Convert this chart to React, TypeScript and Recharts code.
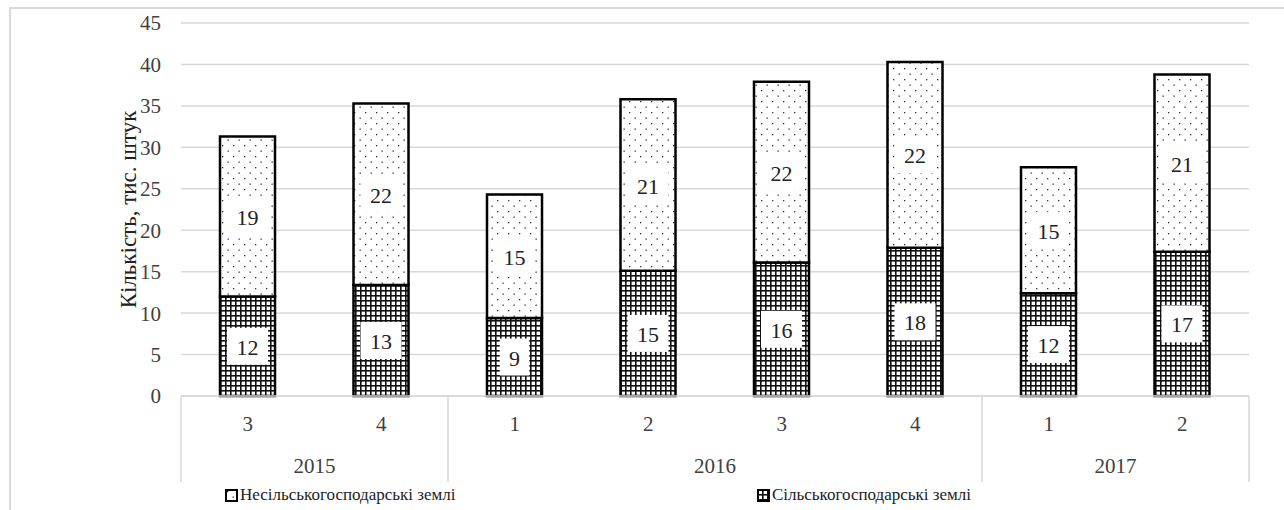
import React from "react";
import {
  BarChart,
  Bar,
  XAxis,
  YAxis,
  CartesianGrid,
  LabelList,
  Legend,
} from "recharts";

// quarter / year categories
const quarters = ["3", "4", "1", "2", "3", "4", "1", "2"];
const years = ["2015", "2015", "2016", "2016", "2016", "2016", "2017", "2017"];

// thousand units
const agricultural = [12.0, 13.4, 9.4, 15.1, 16.1, 17.9, 12.4, 17.4];
const nonAgricultural = [19.3, 21.9, 14.9, 20.7, 21.8, 22.4, 15.2, 21.4];

const yTicks = [0, 5, 10, 15, 20, 25, 30, 35, 40, 45];

const AGRI_NAME = "Сільськогосподарські землі";
const NON_AGRI_NAME = "Несільськогосподарські землі";

const data = quarters.map((q, i) => ({
  q,
  year: years[i],
  agri: agricultural[i],
  nonAgri: nonAgricultural[i],
}));

const W = 1284;
const H = 510;
const MARGIN = { top: 23, right: 35, bottom: 0, left: 111 };
const Y_AXIS_W = 70;
const X_AXIS_H = 114;
const FONT = "'Liberation Serif', 'Times New Roman', serif";
const GRID = "#d9d9d9";
const TEXT = "#404040";

const STEP = (W - MARGIN.left - Y_AXIS_W - MARGIN.right) / data.length;

function CategoryTick(props: any) {
  const { x, y, payload, index } = props;
  const yr = years[index];
  const isStart = index === 0 || years[index - 1] !== yr;
  const isLast = index === years.length - 1;
  let groupLen = 0;
  if (isStart) {
    let j = index;
    while (j < years.length && years[j] === yr) {
      groupLen++;
      j++;
    }
  }
  return (
    <g>
      <text
        x={x}
        y={y + 28}
        textAnchor="middle"
        dominantBaseline="central"
        fontFamily={FONT}
        fontSize={21}
        fill={TEXT}
      >
        {payload.value}
      </text>
      {isStart && (
        <>
          <line
            x1={x - STEP / 2}
            x2={x - STEP / 2}
            y1={y}
            y2={y + 86}
            stroke={GRID}
            strokeWidth={1.5}
          />
          <text
            x={x + ((groupLen - 1) * STEP) / 2}
            y={y + 70}
            textAnchor="middle"
            dominantBaseline="central"
            fontFamily={FONT}
            fontSize={21}
            fill={TEXT}
          >
            {yr}
          </text>
        </>
      )}
      {isLast && (
        <line
          x1={x + STEP / 2}
          x2={x + STEP / 2}
          y1={y}
          y2={y + 86}
          stroke={GRID}
          strokeWidth={1.5}
        />
      )}
    </g>
  );
}

function BoxLabel(props: any) {
  const { x, y, width, height, value } = props;
  const txt = String(Math.round(value));
  const bw = txt.length * 11.5 + 18;
  const bh = 37;
  const cx = x + width / 2;
  const cy = y + height / 2;
  return (
    <g>
      <rect x={cx - bw / 2} y={cy - bh / 2} width={bw} height={bh} fill="#fff" />
      <text
        x={cx}
        y={cy + 1}
        textAnchor="middle"
        dominantBaseline="central"
        fontFamily={FONT}
        fontSize={22}
        fill="#222"
      >
        {txt}
      </text>
    </g>
  );
}

function LegendContent() {
  const items = [
    { name: NON_AGRI_NAME, fill: "url(#dots)", left: 225 },
    { name: AGRI_NAME, fill: "url(#grid)", left: 757 },
  ];
  return (
    <div style={{ position: "relative", height: 24 }}>
      {items.map((it) => (
        <div
          key={it.name}
          style={{
            position: "absolute",
            left: it.left,
            top: 0,
            display: "flex",
            alignItems: "center",
            fontFamily: FONT,
            fontSize: 17,
            color: "#222",
            whiteSpace: "nowrap",
          }}
        >
          <svg width={13} height={13} style={{ marginRight: 2 }}>
            <rect x={1} y={1} width={11} height={11} fill={it.fill} stroke="#000" strokeWidth={2} />
          </svg>
          <span style={{ fontFamily: FONT }}>{it.name}</span>
        </div>
      ))}
    </div>
  );
}

export default function App() {
  return (
    <div style={{ position: "absolute", left: 0, top: 0, width: W, height: H, background: "#fff" }}>
      <div
        style={{
          position: "absolute",
          left: 9,
          top: 7,
          width: W,
          height: H,
          borderTop: `2px solid ${GRID}`,
          borderLeft: `2px solid ${GRID}`,
        }}
      />
      <BarChart width={W} height={H} data={data} margin={MARGIN} style={{ position: "absolute", left: 0, top: 0 }}>
        <defs>
          <pattern id="grid" width={5} height={5} patternUnits="userSpaceOnUse">
            <rect width={5} height={5} fill="#fff" />
            <rect x={0} y={0} width={1.6} height={5} fill="#111" />
            <rect x={0} y={0} width={5} height={1.6} fill="#111" />
          </pattern>
          <pattern id="dots" width={11} height={11} patternUnits="userSpaceOnUse">
            <rect width={11} height={11} fill="#fff" />
            <rect x={2} y={2} width={1.3} height={1.3} fill="#333" />
            <rect x={7.5} y={7.5} width={1.3} height={1.3} fill="#333" />
          </pattern>
        </defs>
        <CartesianGrid vertical={false} stroke={GRID} strokeWidth={1.5} />
        <XAxis
          dataKey="q"
          interval={0}
          height={X_AXIS_H}
          tickLine={false}
          tickSize={0}
          tickMargin={0}
          axisLine={{ stroke: GRID, strokeWidth: 1.5 }}
          tick={<CategoryTick />}
        />
        <YAxis
          width={Y_AXIS_W}
          domain={[0, 45]}
          ticks={yTicks}
          interval={0}
          axisLine={false}
          tickLine={false}
          tickSize={0}
          tickMargin={20}
          tick={{ fontFamily: FONT, fontSize: 21, fill: TEXT }}
          label={{
            content: ({ viewBox }: any) => {
              const cx = viewBox.x + 17;
              const cy = viewBox.y + viewBox.height / 2;
              return (
                <text
                  x={cx}
                  y={cy}
                  transform={`rotate(-90 ${cx} ${cy})`}
                  textAnchor="middle"
                  dominantBaseline="central"
                  fontFamily={FONT}
                  fontSize={23}
                  fill="#222"
                >
                  Кількість, тис. штук
                </text>
              );
            },
          }}
        />
        <Legend
          layout="horizontal"
          verticalAlign="middle"
          align="center"
          content={<LegendContent />}
          wrapperStyle={{ position: "absolute", left: 0, top: 485, width: W }}
        />
        <Bar
          dataKey="agri"
          name={AGRI_NAME}
          stackId="a"
          barSize={55}
          fill="url(#grid)"
          stroke="#000"
          strokeWidth={2.5}
          isAnimationActive={false}
        >
          <LabelList dataKey="agri" content={<BoxLabel />} />
        </Bar>
        <Bar
          dataKey="nonAgri"
          name={NON_AGRI_NAME}
          stackId="a"
          barSize={55}
          fill="url(#dots)"
          stroke="#000"
          strokeWidth={2.5}
          isAnimationActive={false}
        >
          <LabelList dataKey="nonAgri" content={<BoxLabel />} />
        </Bar>
      </BarChart>
    </div>
  );
}
